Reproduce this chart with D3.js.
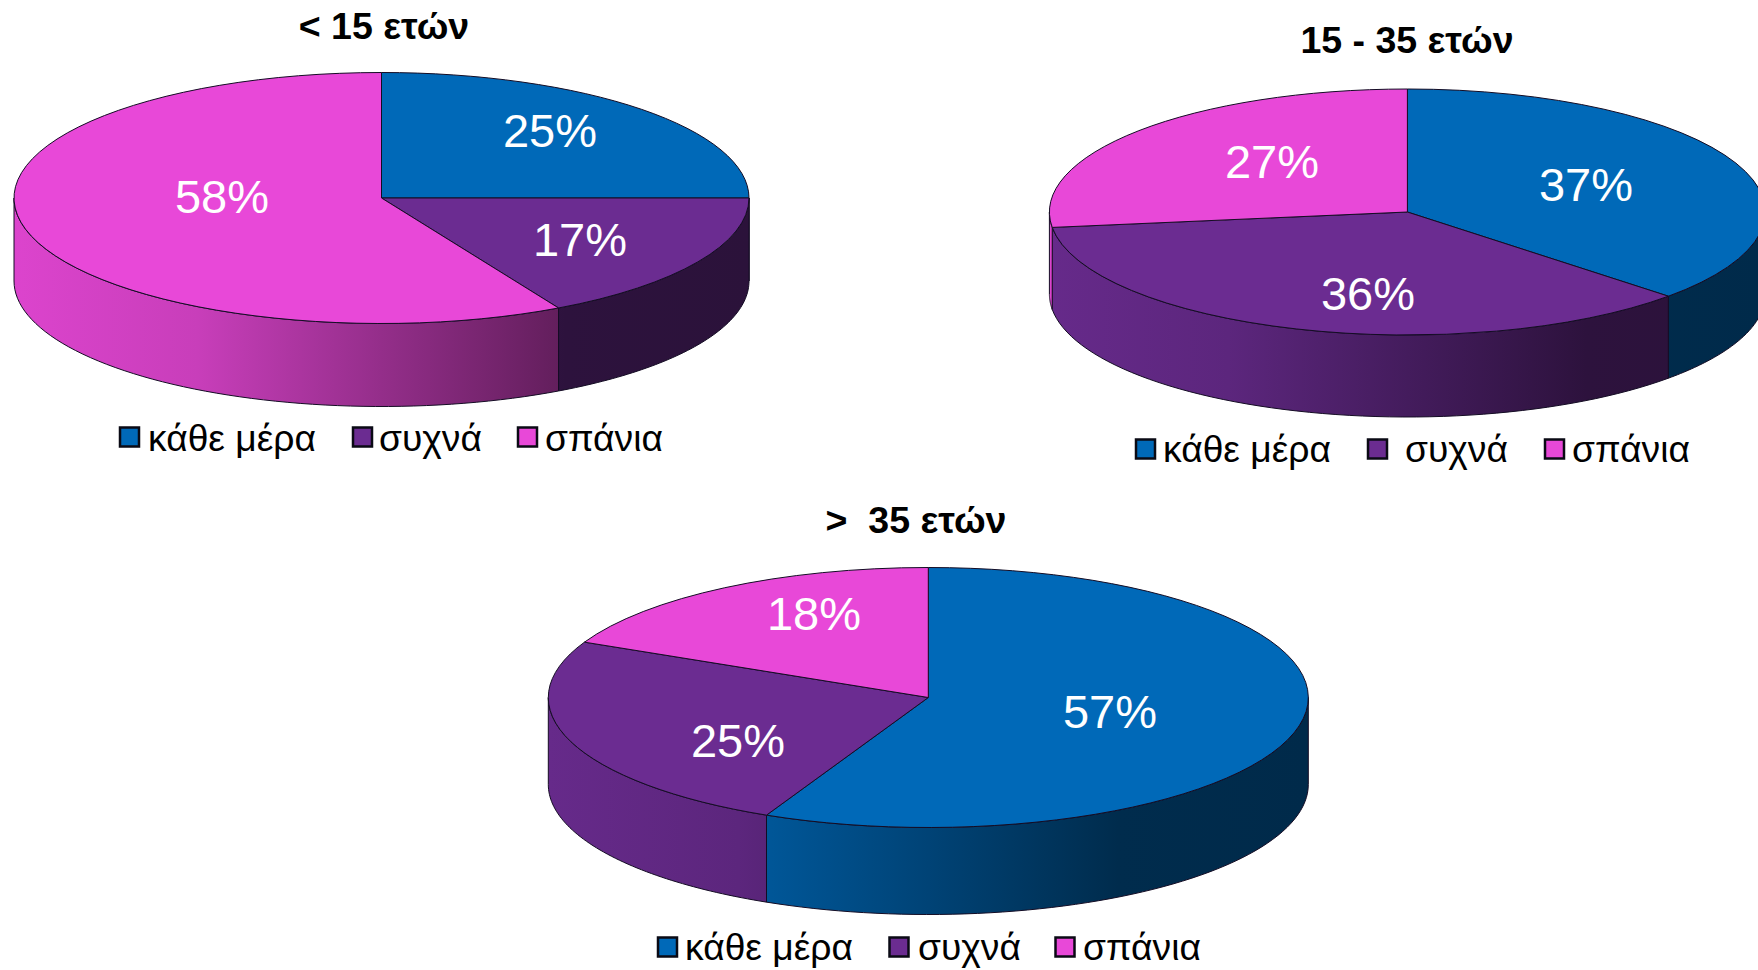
<!DOCTYPE html>
<html lang="el">
<head>
<meta charset="utf-8">
<title>Συχνότητα ανά ηλικία</title>
<script src="https://d3js.org/d3.v7.min.js"></script>
<style>
  html, body { margin: 0; background: #fff; overflow: hidden; }
  svg { display: block; font-family: "Liberation Sans", Arial, sans-serif; }
  text { white-space: pre; }
  .title { font-weight: bold; font-size: 37.5px; fill: #000; text-anchor: middle; }
  .pct { font-size: 47px; fill: #fff; text-anchor: middle; }
  .legend-label { font-size: 37.2px; fill: #000; }
</style>
</head>
<body>
<svg id="chart" width="1758" height="970"></svg>
<script>
// Survey shares per age group
const categories = ["κάθε μέρα", "συχνά", "σπάνια"];
const groupTitles = ["< 15 ετών", "15 - 35 ετών", ">  35 ετών"];
const valuesUnder15 = [25, 17, 58];
const values15to35 = [37, 36, 27];
const valuesOver35 = [57, 25, 18];

const baseColors = ["#0069b8", "#6b2c91", "#e848d8"];

// Placement of each disc, its title and its legend row
const layouts = [
  { values: valuesUnder15, cx: 381.5, cy: 198, rx: 367.5, ry: 125.5, depth: 83,
    titleX: 384, titleY: 39, legendY: 427.5, legendTextY: 451,
    swatchX: [119.5, 352.5, 517.5], textX: [148, 379, 545],
    labels: [[550, 147], [580, 256], [222, 213]] },
  { values: values15to35, cx: 1407.4, cy: 212, rx: 358, ry: 123, depth: 82,
    titleX: 1407, titleY: 53, legendY: 439.5, legendTextY: 462,
    swatchX: [1135.5, 1367.5, 1544.5], textX: [1163, 1405, 1572],
    labels: [[1586, 201], [1368, 310], [1272, 178]] },
  { values: valuesOver35, cx: 928.3, cy: 697.5, rx: 380, ry: 130, depth: 87,
    titleX: 916, titleY: 533, legendY: 937.5, legendTextY: 960,
    swatchX: [657.5, 889, 1055], textX: [685, 918, 1083],
    labels: [[1110, 728], [738, 757], [814, 630]] }
];

const svg = d3.select("#chart");
const defs = svg.append("defs");
const pie = d3.pie().sort(null).value(d => d);

// Brightness of the rim as it turns away from the light, left to right
const shade = d3.scaleLinear()
  .domain([0, 0.25, 0.5, 0.75, 1])
  .range([0.95, 0.86, 0.64, 0.42, 0.40]);

function rimPath(a0, a1, L) {
  // Walks the outer edge of the disc between two pie angles, then back along the lower edge
  const steps = d3.range(0, 61).map(k => a0 + (a1 - a0) * k / 60);
  const pt = (a, dy) => [L.rx * Math.sin(a), -L.ry * Math.cos(a) + dy];
  const upper = steps.map(a => pt(a, 0));
  const lower = steps.slice().reverse().map(a => pt(a, L.depth));
  return d3.line()(upper.concat(lower)) + "Z";
}

layouts.forEach((L, gi) => {
  const arcs = pie(L.values);
  const g = svg.append("g").attr("transform", `translate(${L.cx},${L.cy})`);

  // Rim gradients are laid out across the full disc width
  baseColors.forEach((c, i) => {
    const grad = defs.append("linearGradient")
      .attr("id", `rim-${gi}-${i}`)
      .attr("gradientUnits", "userSpaceOnUse")
      .attr("x1", -L.rx).attr("x2", L.rx).attr("y1", 0).attr("y2", 0);
    shade.domain().forEach(t => {
      const k = shade(t), col = d3.rgb(c);
      grad.append("stop").attr("offset", t)
        .attr("stop-color", d3.rgb(col.r * k, col.g * k, col.b * k).formatHex());
    });
  });

  // Only the front half of the rim is visible
  const lo = Math.PI / 2, hi = 3 * Math.PI / 2;
  arcs.forEach((d, i) => {
    const a0 = Math.max(d.startAngle, lo), a1 = Math.min(d.endAngle, hi);
    if (a1 <= a0) return;
    g.append("path")
      .attr("d", rimPath(a0, a1, L))
      .attr("fill", `url(#rim-${gi}-${i})`)
      .attr("stroke", "#140c24").attr("stroke-width", 1);
  });

  // Top face: a circular pie flattened into an ellipse
  const arc = d3.arc().innerRadius(0).outerRadius(L.rx);
  g.append("g")
    .attr("transform", `scale(1,${L.ry / L.rx})`)
    .selectAll("path").data(arcs).join("path")
    .attr("d", arc)
    .attr("fill", (d, i) => baseColors[i])
    .attr("stroke", "#140c24").attr("stroke-width", 1)
    .attr("vector-effect", "non-scaling-stroke");

  arcs.forEach((d, i) => {
    svg.append("text").attr("class", "pct")
      .attr("x", L.labels[i][0]).attr("y", L.labels[i][1])
      .text(d.value + "%");
  });

  svg.append("text").attr("class", "title")
    .attr("x", L.titleX).attr("y", L.titleY).text(groupTitles[gi]);

  categories.forEach((name, i) => {
    svg.append("rect")
      .attr("x", L.swatchX[i] + 0.5).attr("y", L.legendY)
      .attr("width", 19).attr("height", 19)
      .attr("fill", baseColors[i]).attr("stroke", "#0a0a14").attr("stroke-width", 2.5);
    svg.append("text").attr("class", "legend-label")
      .attr("x", L.textX[i]).attr("y", L.legendTextY).text(name);
  });
});
</script>
</body>
</html>
